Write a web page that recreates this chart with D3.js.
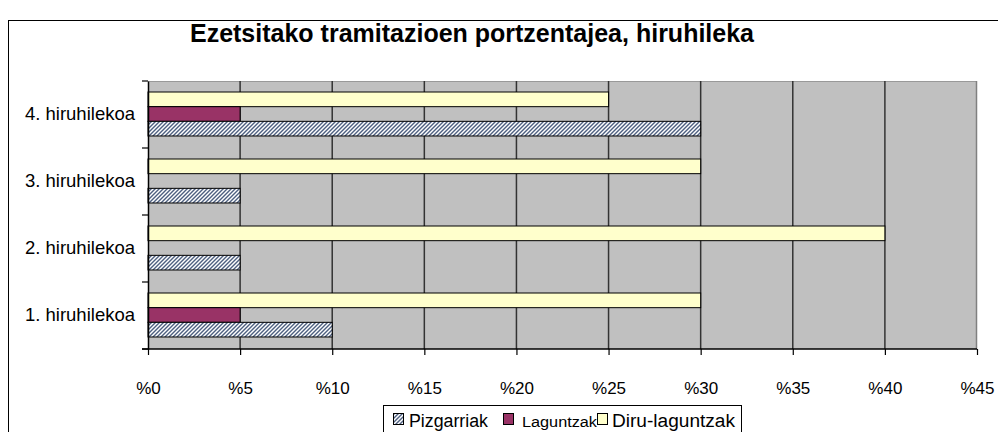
<!DOCTYPE html>
<html><head><meta charset="utf-8">
<script src="https://cdn.jsdelivr.net/npm/d3@7"></script>
<style>body{margin:0;background:#fff;overflow:hidden}svg{display:block;font-family:"Liberation Sans",Arial,sans-serif}</style>
</head><body><svg id="c" width="998" height="432"></svg>
<script>
const categories = ["1. hiruhilekoa","2. hiruhilekoa","3. hiruhilekoa","4. hiruhilekoa"];
const seriesNames = ["Pizgarriak","Laguntzak","Diru-laguntzak"];
const pizgarriak = [10,5,5,30];
const laguntzak = [5,0,0,5];
const diruLaguntzak = [30,40,30,25];
const xTicks = [0,5,10,15,20,25,30,35,40,45];
const title = "Ezetsitako tramitazioen portzentajea, hiruhileka";

const svg = d3.select("#c");
const defs = svg.append("defs");
const pat = defs.append("pattern").attr("id","hatch").attr("patternUnits","userSpaceOnUse")
  .attr("width",4).attr("height",4);
pat.append("rect").attr("width",4).attr("height",4).attr("fill","#fff");
pat.append("path").attr("d","M-1,1 l2,-2 M0,4 l4,-4 M3,5 l2,-2").attr("stroke","#4d5f80").attr("stroke-width",1.4);

svg.append("rect").attr("x",8.5).attr("y",20.5).attr("width",1000).attr("height",430)
  .attr("fill","#fff").attr("stroke","#000").attr("stroke-width",1);

const L=148, R=977, T=81, B=349;
const x = d3.scaleLinear().domain([0,45]).range([L,R]);
const y = d3.scaleBand().domain(categories.slice().reverse()).range([T,B]);
const inner = d3.scaleBand().domain(["Diru-laguntzak","Laguntzak","Pizgarriak"]).range([11,y.bandwidth()-12]);

svg.append("rect").attr("x",L).attr("y",T).attr("width",R-L).attr("height",B-T).attr("fill","#c0c0c0");
svg.append("line").attr("x1",L).attr("x2",R).attr("y1",T+0.5).attr("y2",T+0.5).attr("stroke","#999");
svg.append("line").attr("x1",R-0.5).attr("x2",R-0.5).attr("y1",T).attr("y2",B).attr("stroke","#808080").attr("stroke-width",1.5);
svg.append("g").selectAll("line").data(xTicks.slice(1,-1)).join("line")
  .attr("x1",d=>x(d)).attr("x2",d=>x(d)).attr("y1",T).attr("y2",B)
  .attr("stroke","#333").attr("stroke-width",1.5);

const data = categories.map((c,i)=>({c, vals:[
  {s:"Diru-laguntzak",v:diruLaguntzak[i],fill:"#ffffcc"},
  {s:"Laguntzak",v:laguntzak[i],fill:"#993366"},
  {s:"Pizgarriak",v:pizgarriak[i],fill:"url(#hatch)"}]}));
svg.append("g").selectAll("g").data(data).join("g")
  .attr("transform",d=>`translate(0,${y(d.c)})`)
  .selectAll("rect").data(d=>d.vals.filter(v=>v.v>0)).join("rect")
  .attr("x",x(0)).attr("y",d=>inner(d.s)).attr("width",d=>x(d.v)-x(0)).attr("height",inner.bandwidth())
  .attr("fill",d=>d.fill).attr("stroke","#000").attr("stroke-width",1);

const xa = svg.append("g").attr("transform",`translate(0,${B})`)
  .call(d3.axisBottom(x).tickValues(xTicks).tickFormat(d=>"%"+d).tickSize(6).tickPadding(27));
xa.select(".domain").attr("stroke","#000").attr("stroke-width",1.5).attr("d",`M${L-6},0H${R}`);
xa.selectAll(".tick line").attr("stroke","#000").attr("stroke-width",1.2);
xa.selectAll("text").attr("font-size",17).attr("font-family","Liberation Sans, Arial").attr("fill","#000");

const ya = svg.append("g").attr("transform",`translate(${L},0)`)
  .call(d3.axisLeft(y).tickSize(0).tickPadding(13));
ya.select(".domain").attr("stroke","#000").attr("stroke-width",1.5);
ya.selectAll("text").attr("font-size",18.5).attr("font-family","Liberation Sans, Arial").attr("fill","#000");
svg.append("g").selectAll("line").data(d3.range(categories.length+1)).join("line")
  .attr("x1",L-6).attr("x2",L).attr("y1",d=>T+d*y.step()).attr("y2",d=>T+d*y.step())
  .attr("stroke","#000").attr("stroke-width",1.2);

svg.append("text").attr("x",472).attr("y",42).attr("text-anchor","middle")
  .attr("font-size",25).attr("font-weight","bold").text(title);

const lg = svg.append("g");
lg.append("rect").attr("x",383.5).attr("y",405.5).attr("width",358).attr("height",34).attr("fill","#fff").attr("stroke","#000");
const items = [
  {s:seriesNames[0],fill:"url(#hatch)",sx:393,tx:409,fs:18,tl:79},
  {s:seriesNames[1],fill:"#993366",sx:503,tx:522,fs:14,tl:75},
  {s:seriesNames[2],fill:"#ffffcc",sx:597,tx:612,fs:18,tl:123}];
lg.selectAll("rect.sw").data(items).join("rect").attr("class","sw")
  .attr("x",d=>d.sx+0.5).attr("y",413.5).attr("width",10).attr("height",11)
  .attr("fill",d=>d.fill).attr("stroke","#000");
lg.selectAll("text").data(items).join("text")
  .attr("x",d=>d.tx).attr("y",427).attr("font-size",d=>d.fs)
  .attr("textLength",d=>d.tl).attr("lengthAdjust","spacingAndGlyphs").text(d=>d.s);
</script></body></html>
